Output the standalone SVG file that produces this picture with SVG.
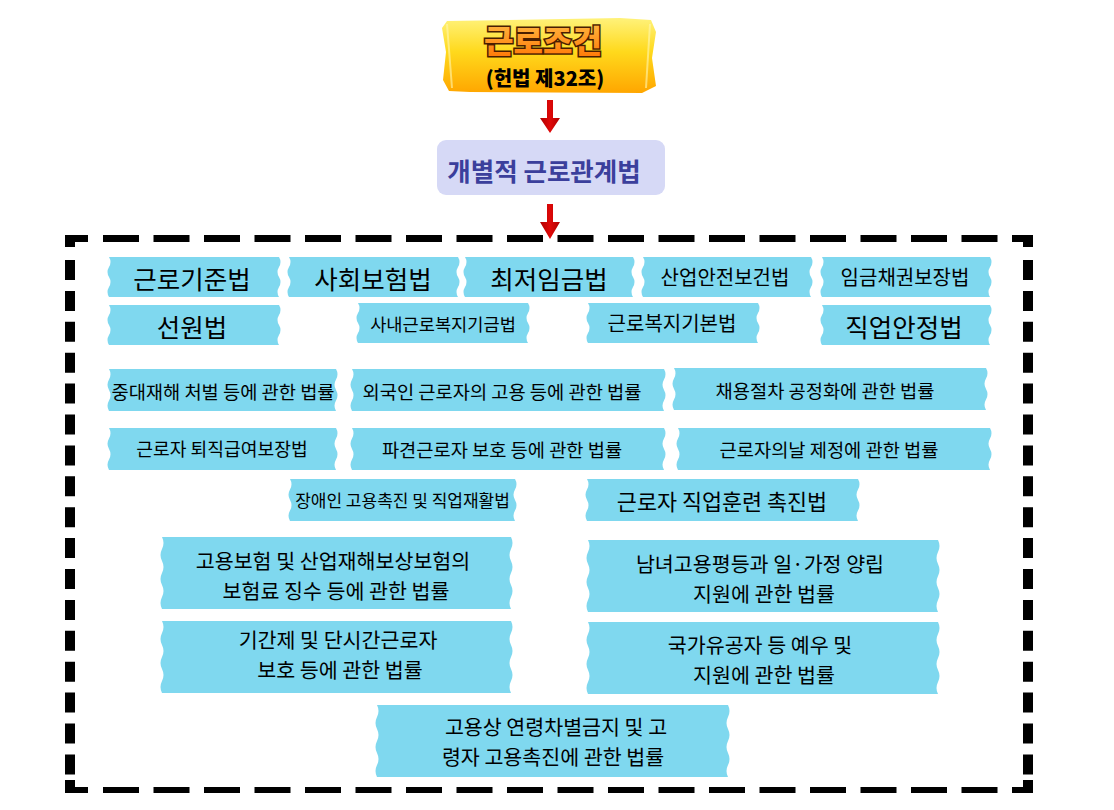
<svg xmlns="http://www.w3.org/2000/svg" width="1114" height="810" viewBox="0 0 1114 810">
<defs>
<linearGradient id="gold" x1="0" y1="0" x2="0" y2="1">
<stop offset="0" stop-color="#fff27a"/>
<stop offset="0.45" stop-color="#ffd91c"/>
<stop offset="1" stop-color="#ffa600"/>
</linearGradient>
<linearGradient id="orangeText" x1="0" y1="0" x2="0" y2="1">
<stop offset="0" stop-color="#ffc04a"/>
<stop offset="1" stop-color="#ff7200"/>
</linearGradient>
<linearGradient id="redArrow" x1="0" y1="0" x2="1" y2="0">
<stop offset="0" stop-color="#b00000"/>
<stop offset="0.5" stop-color="#e00808"/>
<stop offset="1" stop-color="#b00000"/>
</linearGradient>
</defs>
<style>
text{font-family:"Noto Sans CJK KR","Noto Sans",sans-serif;text-anchor:middle;dominant-baseline:central;fill:#000}
.tape{fill:#7fd8ef}
.big{font-size:25.5px}
.mid{font-size:20px}
.sm{font-size:18.7px}
.lg{font-size:21.8px}
.two{font-size:20.6px}
.dash{fill:none;stroke:#000}
</style>
<rect width="1114" height="810" fill="#fff"/>

<g id="frame">
<line class="dash" x1="103" y1="238.5" x2="997.5" y2="238.5" stroke-width="7" stroke-dasharray="36 14.5"/>
<line class="dash" x1="103" y1="790" x2="997.5" y2="790" stroke-width="6" stroke-dasharray="36 14.5"/>
<line class="dash" x1="70" y1="260" x2="70" y2="774.4" stroke-width="10" stroke-dasharray="20 10.9"/>
<line class="dash" x1="1028" y1="260" x2="1028" y2="774.4" stroke-width="10" stroke-dasharray="20 10.9"/>
<polygon points="65,235 88,235 88,242 75,242 75,247 65,247" fill="#000"/>
<polygon points="1012,235 1033,235 1033,247 1023,247 1023,242 1012,242" fill="#000"/>
<polygon points="65,780 75,780 75,787 88,787 88,793 65,793" fill="#000"/>
<polygon points="1023,780 1033,780 1033,793 1012,793 1012,787 1023,787" fill="#000"/>
</g>

<g id="node-constitution">
<path d="M447 21 L620 18 L651 20 L656 32 L652 58 L656 86 L642 93 L470 92 L449 91 L443 80 L446 52 L442 28 Z" fill="url(#gold)"/>
<path d="M447 24 L452 88 M650 24 L646 88" stroke="#fff6b0" stroke-width="2" opacity="0.6" fill="none"/>
<text x="543" y="39" style="font-size:32px;font-weight:900;fill:url(#orangeText);stroke:#4a1e00;stroke-width:3;paint-order:stroke">근로조건</text>
<text x="545" y="77" style="font-size:20px;font-weight:900">(헌법 제32조)</text>
</g>

<g id="node-individual">
<rect x="437" y="140" width="228" height="55" rx="9" fill="#d6d9f6"/>
<text x="544" y="169" style="font-size:25.5px;font-weight:bold;fill:#3b3f9c">개별적 근로관계법</text>
</g>

<g id="connectors">
<polygon points="547,100 553,100 553,118 560,118 550,133 540,118 547,118" fill="url(#redArrow)"/>
<polygon points="547,204 553,204 553,222 560,222 550,239 540,222 547,222" fill="url(#redArrow)"/>
</g>

<g id="n1"><path class="tape" d="M109 257 h170 q3 5 0 10 t0 10 t0 10 t0 10 h-170 q-3 -5 0 -10 t0 -10 t0 -10 t0 -10 z"/><text class="big" x="192" y="277">근로기준법</text></g>
<g id="n2"><path class="tape" d="M289 257 h169 q3 5 0 10 t0 10 t0 10 t0 10 h-169 q-3 -5 0 -10 t0 -10 t0 -10 t0 -10 z"/><text class="big" x="373" y="277">사회보험법</text></g>
<g id="n3"><path class="tape" d="M465 257 h168 q3 5 0 10 t0 10 t0 10 t0 10 h-168 q-3 -5 0 -10 t0 -10 t0 -10 t0 -10 z"/><text class="big" x="549" y="277">최저임금법</text></g>
<g id="n4"><path class="tape" d="M643 257 h168 q3 5 0 10 t0 10 t0 10 t0 10 h-168 q-3 -5 0 -10 t0 -10 t0 -10 t0 -10 z"/><text class="mid" x="725" y="276">산업안전보건법</text></g>
<g id="n5"><path class="tape" d="M822 257 h168 q3 5 0 10 t0 10 t0 10 t0 10 h-168 q-3 -5 0 -10 t0 -10 t0 -10 t0 -10 z"/><text class="mid" x="905" y="276">임금채권보장법</text></g>

<g id="n6"><path class="tape" d="M109 305 h170 q3 5 0 10 t0 10 t0 10 t0 10 h-170 q-3 -5 0 -10 t0 -10 t0 -10 t0 -10 z"/><text class="big" x="192" y="325">선원법</text></g>
<g id="n7"><path class="tape" d="M358 303 h170 q3 5 0 10 t0 10 t0 10 t0 10 h-170 q-3 -5 0 -10 t0 -10 t0 -10 t0 -10 z"/><text x="443" y="323" style="font-size:17.6px">사내근로복지기금법</text></g>
<g id="n8"><path class="tape" d="M588 303 h170 q3 5 0 10 t0 10 t0 10 t0 10 h-170 q-3 -5 0 -10 t0 -10 t0 -10 t0 -10 z"/><text class="mid" x="672" y="322">근로복지기본법</text></g>
<g id="n9"><path class="tape" d="M822 305 h168 q3 5 0 10 t0 10 t0 10 t0 10 h-168 q-3 -5 0 -10 t0 -10 t0 -10 t0 -10 z"/><text class="big" x="904" y="325">직업안정법</text></g>

<g id="n10"><path class="tape" d="M109 369 h227 q3 5.25 0 10.5 t0 10.5 t0 10.5 t0 10.5 h-227 q-3 -5.25 0 -10.5 t0 -10.5 t0 -10.5 t0 -10.5 z"/><text class="sm" x="223" y="390">중대재해 처벌 등에 관한 법률</text></g>
<g id="n11"><path class="tape" d="M352 369 h312 q3 5.25 0 10.5 t0 10.5 t0 10.5 t0 10.5 h-312 q-3 -5.25 0 -10.5 t0 -10.5 t0 -10.5 t0 -10.5 z"/><text class="sm" x="502" y="390">외국인 근로자의 고용 등에 관한 법률</text></g>
<g id="n12"><path class="tape" d="M674 368 h312 q3 5.25 0 10.5 t0 10.5 t0 10.5 t0 10.5 h-312 q-3 -5.25 0 -10.5 t0 -10.5 t0 -10.5 t0 -10.5 z"/><text class="sm" x="825" y="389">채용절차 공정화에 관한 법률</text></g>

<g id="n13"><path class="tape" d="M109 428 h227 q3 5.25 0 10.5 t0 10.5 t0 10.5 t0 10.5 h-227 q-3 -5.25 0 -10.5 t0 -10.5 t0 -10.5 t0 -10.5 z"/><text x="222" y="448" style="font-size:18.2px">근로자 퇴직급여보장법</text></g>
<g id="n14"><path class="tape" d="M352 428 h312 q3 5.25 0 10.5 t0 10.5 t0 10.5 t0 10.5 h-312 q-3 -5.25 0 -10.5 t0 -10.5 t0 -10.5 t0 -10.5 z"/><text class="sm" x="502" y="448">파견근로자 보호 등에 관한 법률</text></g>
<g id="n15"><path class="tape" d="M678 428 h312 q3 5.25 0 10.5 t0 10.5 t0 10.5 t0 10.5 h-312 q-3 -5.25 0 -10.5 t0 -10.5 t0 -10.5 t0 -10.5 z"/><text class="sm" x="829" y="448">근로자의날 제정에 관한 법률</text></g>

<g id="n16"><path class="tape" d="M290 479 h225 q3 5.25 0 10.5 t0 10.5 t0 10.5 t0 10.5 h-225 q-3 -5.25 0 -10.5 t0 -10.5 t0 -10.5 t0 -10.5 z"/><text x="402.5" y="499" style="font-size:17px">장애인 고용촉진 및 직업재활법</text></g>
<g id="n17"><path class="tape" d="M587 479 h271 q3 5.25 0 10.5 t0 10.5 t0 10.5 t0 10.5 h-271 q-3 -5.25 0 -10.5 t0 -10.5 t0 -10.5 t0 -10.5 z"/><text class="lg" x="722" y="500">근로자 직업훈련 촉진법</text></g>

<g id="n18"><path class="tape" d="M162 537 h349 q3 6 0 12 t0 12 t0 12 t0 12 t0 12 t0 12 h-349 q-3 -6 0 -12 t0 -12 t0 -12 t0 -12 t0 -12 t0 -12 z"/><text class="two" x="333" y="560">고용보험 및 산업재해보상보험의</text><text class="two" x="336" y="590">보험료 징수 등에 관한 법률</text></g>
<g id="n19"><path class="tape" d="M162 621 h349 q3 6 0 12 t0 12 t0 12 t0 12 t0 12 t0 12 h-349 q-3 -6 0 -12 t0 -12 t0 -12 t0 -12 t0 -12 t0 -12 z"/><text class="two" x="338" y="639">기간제 및 단시간근로자</text><text class="two" x="340" y="669">보호 등에 관한 법률</text></g>
<g id="n20"><path class="tape" d="M588 540 h350 q3 6 0 12 t0 12 t0 12 t0 12 t0 12 t0 12 h-350 q-3 -6 0 -12 t0 -12 t0 -12 t0 -12 t0 -12 t0 -12 z"/><text class="two" x="760" y="563">남녀고용평등과 일·가정 양립</text><text class="two" x="764" y="593">지원에 관한 법률</text></g>
<g id="n21"><path class="tape" d="M588 622 h350 q3 6 0 12 t0 12 t0 12 t0 12 t0 12 t0 12 h-350 q-3 -6 0 -12 t0 -12 t0 -12 t0 -12 t0 -12 t0 -12 z"/><text class="two" x="760" y="644">국가유공자 등 예우 및</text><text class="two" x="764" y="674">지원에 관한 법률</text></g>
<g id="n22"><path class="tape" d="M377 705 h351 q3 6 0 12 t0 12 t0 12 t0 12 t0 12 t0 12 h-351 q-3 -6 0 -12 t0 -12 t0 -12 t0 -12 t0 -12 t0 -12 z"/><text class="two" x="556" y="726">고용상 연령차별금지 및 고</text><text class="two" x="553" y="756">령자 고용촉진에 관한 법률</text></g>
</svg>
